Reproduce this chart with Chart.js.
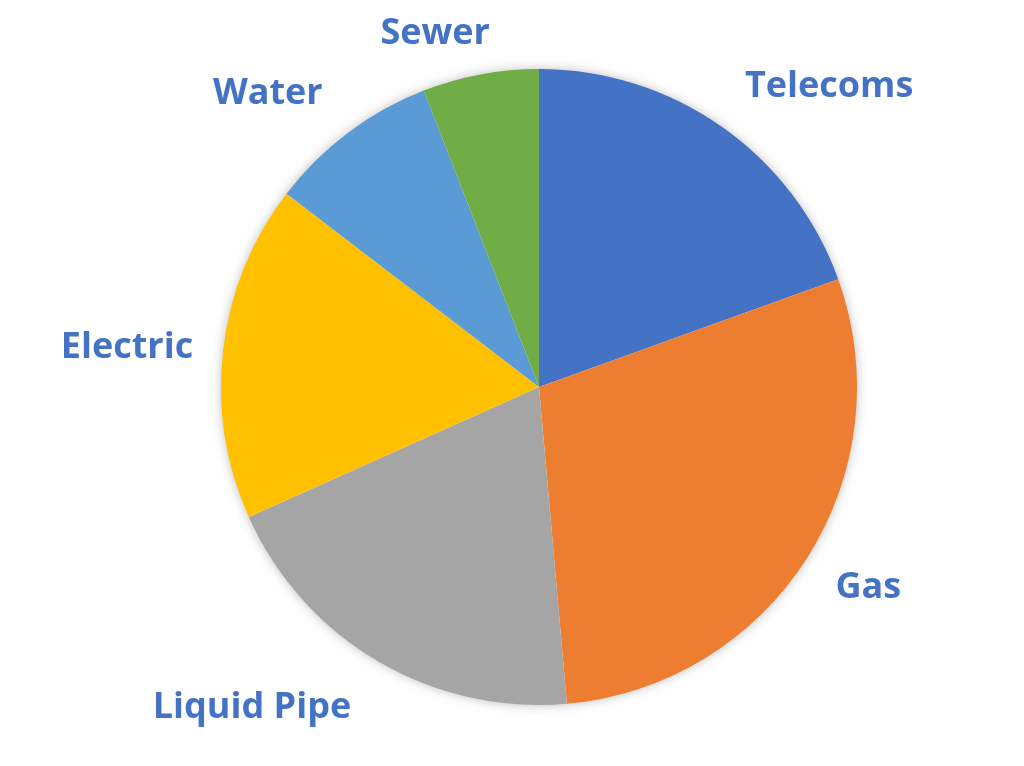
<!DOCTYPE html>
<html>
<head>
<meta charset="utf-8">
<script src="https://cdn.jsdelivr.net/npm/chart.js@4.4.0/dist/chart.umd.min.js"></script>
<style>
  html, body { margin: 0; padding: 0; background: #fff; }
  #wrap { width: 1024px; height: 766px; }
</style>
</head>
<body>
<div id="wrap"><canvas id="pie"></canvas></div>
<script>
var categories = ['Telecoms', 'Gas', 'Liquid Pipe', 'Electric', 'Water', 'Sewer'];
var shares = [19.5, 29.1, 19.7, 17.1, 8.7, 5.9];
var colours = ['#4472C4', '#ED7D31', '#A5A5A5', '#FFC000', '#5B9BD5', '#70AD47'];

// labels outside each slice, along the middle angle, with a small hand nudge
var outerLabels = {
  id: 'outerLabels',
  afterDatasetsDraw: function (chart, args, opts) {
    var ctx = chart.ctx;
    var arcs = chart.getDatasetMeta(0).data;
    ctx.save();
    ctx.font = 'bold 36px "Open Sans"';
    ctx.fillStyle = '#4472C4';
    ctx.textAlign = 'center';
    ctx.textBaseline = 'middle';
    arcs.forEach(function (arc, i) {
      var mid = (arc.startAngle + arc.endAngle) / 2;
      var s = Math.cos(mid), c = Math.sin(mid);
      var w = ctx.measureText(categories[i]).width / 2;
      var h = 18;
      var r = arc.outerRadius + opts.gap + Math.abs(s) * w + Math.abs(c) * h;
      var n = opts.nudge[i] || [0, 0];
      ctx.fillText(categories[i], arc.x + s * r + n[0], arc.y + c * r + n[1]);
    });
    ctx.restore();
  }
};

// one soft shadow round the whole pie
var pieShadow = {
  id: 'pieShadow',
  beforeDatasetsDraw: function (chart) {
    var arc = chart.getDatasetMeta(0).data[0];
    var ctx = chart.ctx;
    ctx.save();
    ctx.shadowColor = 'rgba(0,0,0,0.3)';
    ctx.shadowBlur = 12;
    ctx.fillStyle = '#fff';
    ctx.beginPath();
    ctx.arc(arc.x, arc.y, arc.outerRadius - 1, 0, Math.PI * 2);
    ctx.fill();
    ctx.restore();
  }
};

new Chart(document.getElementById('pie').getContext('2d'), {
  type: 'pie',
  data: {
    labels: categories,
    datasets: [{
      data: shares,
      backgroundColor: colours,
      borderWidth: 0
    }]
  },
  options: {
    responsive: true,
    maintainAspectRatio: false,
    animation: false,
    layout: { padding: { left: 221, right: 167, top: 69, bottom: 61 } },
    plugins: {
      legend: { display: false },
      tooltip: { enabled: false },
      outerLabels: {
        gap: 33,
        nudge: [[52, 39], [2, -8], [-76, -39], [4, 9], [-32, 25], [-34, 19]]
      }
    }
  },
  plugins: [pieShadow, outerLabels]
});
</script>
</body>
</html>
